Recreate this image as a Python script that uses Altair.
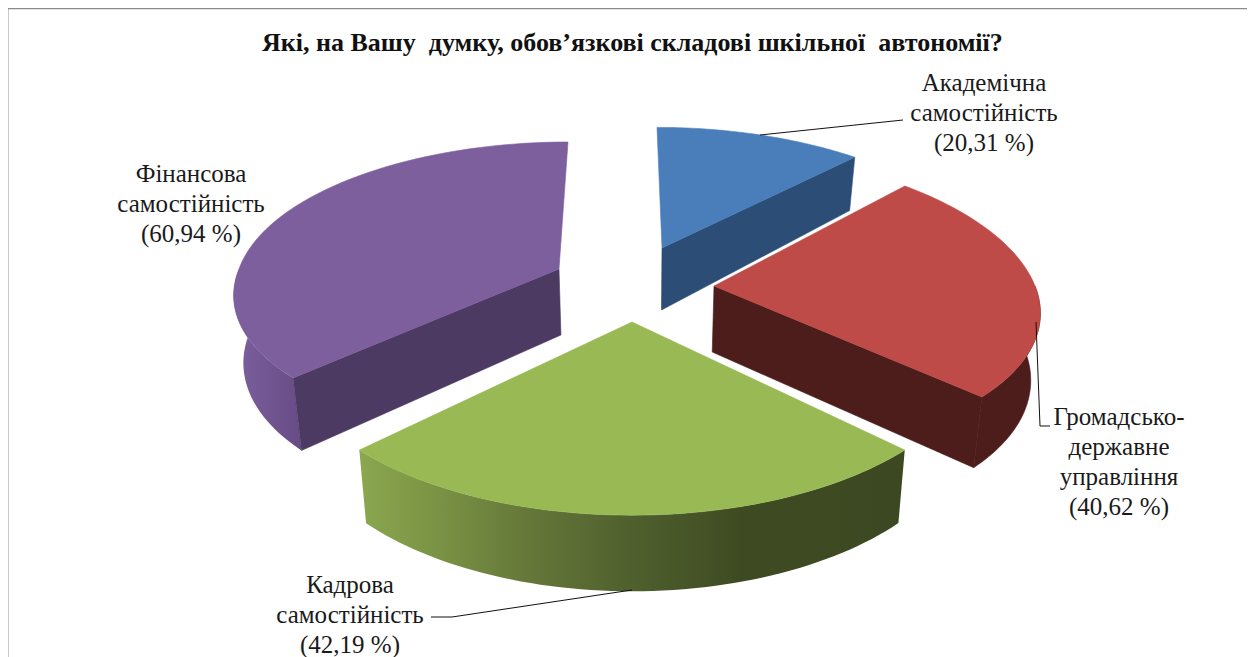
import math
import altair as alt

# ---- data
names = ["Академічна\nсамостійність", "Громадсько-\nдержавне\nуправління",
         "Кадрова\nсамостійність", "Фінансова\nсамостійність"]
values = [20.31, 40.62, 42.19, 60.94]
title = "Які, на Вашу\u00a0 думку, обов’язкові складові шкільної\u00a0 автономії?"

# ---- styles / layout (page pixels)
top_col = ["#4A7EBB", "#BE4B48", "#98B954", "#7D5F9E"]
cut_col = ["#2C4D75", "#4D1D1C", None, "#4D3A63"]
apex = [(662, 248), (714, 286), (632, 322), (559, 269)]
rx = [325, 321, 346, 320]
ry = [148, 150, 170, 143.5]
persp = [0.227, 0.096, 0.12, 0.13]
shear_back = [5, 28, 0, -9]
shear_front = [5, 28, 0, -17]
depth = [62, 66, 67, 66]
vx, squeeze = 640, 0.976
label_xy = [(984, 83), (1119, 417), (350, 585), (191, 174)]
OX, OY = 8, 8

total = sum(values)
def P(i, th, bottom=False):
    X, Y = math.sin(th), -math.cos(th)
    den = 1 - persp[i] * Y
    s = shear_front[i] if Y > 0 else shear_back[i]
    x = apex[i][0] + rx[i] * X / den + s * Y
    y = apex[i][1] + ry[i] * Y / den
    if bottom:
        x = vx + (x - vx) * squeeze
        y += depth[i] / den
    return [x - OX, y - OY]
def C(i, bottom=False):
    x, y = apex[i]
    if bottom:
        x = vx + (x - vx) * squeeze
        y += depth[i]
    return [x - OX, y - OY]
def arc(i, a, b, bottom=False, n=60):
    return [P(i, a + (b - a) * k / n, bottom) for k in range(n + 1)]
def poly(pts):
    pts = pts + [pts[0]]
    return {"type": "Feature", "properties": {}, "geometry": {"type": "Polygon", "coordinates": [pts]}}
def line(pts):
    return {"type": "Feature", "properties": {}, "geometry": {"type": "LineString",
            "coordinates": [[x - OX, y - OY] for x, y in pts]}}

def shape(f, **mark):
    d = alt.InlineData(values={"type": "FeatureCollection", "features": [f]},
                       format=alt.DataFormat(property="features", type="json"))
    return alt.Chart(d).mark_geoshape(**mark).project(type="identity", scale=1, translate=[0, 0])
def grad(stops):
    return alt.Gradient(gradient="linear", x1=0, x2=1, y1=0, y2=0,
                        stops=[alt.GradientStop(color=c, offset=o) for o, c in stops])

edges = [0]
for v in values:
    edges.append(edges[-1] + v / total * 2 * math.pi)
layers = []

def solid(f, col):
    return shape(f, fill=col, stroke=col, strokeWidth=0.6)

# purple
a, b = edges[3], edges[4]
layers.append(shape(poly(arc(3, a, 1.5 * math.pi) + arc(3, 1.5 * math.pi, a, True)),
                    fill=grad([(0, "#7D5F9E"), (1, "#664C86")]), strokeWidth=0))
layers.append(solid(poly([C(3), P(3, a), P(3, a, True), C(3, True)]), cut_col[3]))
layers.append(solid(poly([C(3)] + arc(3, a, b)), top_col[3]))
# blue
a, b = edges[0], edges[1]
layers.append(solid(poly([C(0), P(0, b), P(0, b, True), C(0, True)]), cut_col[0]))
layers.append(solid(poly([C(0)] + arc(0, a, b)), top_col[0]))
# red
a, b = edges[1], edges[2]
layers.append(solid(poly([C(1), P(1, b), P(1, b, True), C(1, True)]), cut_col[1]))
layers.append(solid(poly(arc(1, math.pi / 2, b) + arc(1, b, math.pi / 2, True)), cut_col[1]))
layers.append(solid(poly([C(1)] + arc(1, a, b)), top_col[1]))
# green
a, b = edges[2], edges[3]
layers.append(shape(poly(arc(2, a, b) + arc(2, b, a, True)),
                    fill=grad([(0, "#8BA74F"), (0.12, "#7D9646"), (0.3, "#66793A"), (0.5, "#4F5F2D"),
                               (0.7, "#3E4B22"), (1, "#3B4821")]),
                    strokeWidth=0))
layers.append(solid(poly([C(2)] + arc(2, a, b)), top_col[2]))

# leader lines and frame
leaders = [[(760, 135), (903, 120)], [(1036, 322), (1040, 426), (1050, 426)], [(431, 617), (452, 617), (632, 590)]]
for L in leaders:
    layers.append(shape(line(L), filled=False, stroke="#111111", strokeWidth=1))
layers.append(shape(line([(7.5, 657), (7.5, 8.5), (1255, 8.5)]), filled=False, stroke="#8a8a8a", strokeWidth=1.5))

# labels
for n, v, (x, y) in zip(names, values, label_xy):
    txt = f"{n}\n({v:.2f} %)".replace(".", ",")
    layers.append(alt.Chart(alt.Data(values=[{"t": txt}])).mark_text(
        font="Liberation Serif", fontSize=25, lineBreak="\n", lineHeight=30, color="#1a1a1a",
        align="center", baseline="middle").encode(
        text="t:N", x=alt.value(x - OX), y=alt.value(y - OY)))

chart = alt.layer(*layers).properties(
    width=1239, height=649, padding=0, autosize=alt.AutoSizeParams(type="none"),
    title=alt.TitleParams(title, font="Liberation Serif", fontSize=26, fontWeight="bold", color="#111111",
                          anchor="start", frame="group", offset=0, dx=254, dy=69, baseline="alphabetic")
).configure_view(stroke=None).configure(background="white")
chart.save("out.html", embed_options={"renderer": "svg", "actions": False})
